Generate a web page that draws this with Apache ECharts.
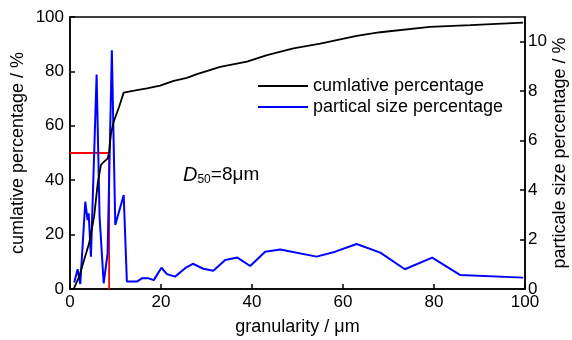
<!DOCTYPE html>
<html>
<head>
<meta charset="utf-8">
<script src="https://cdn.jsdelivr.net/npm/echarts@6/dist/echarts.min.js"></script>
<style>
html,body{margin:0;padding:0;background:#fff;}
#chart{width:572px;height:340px;}
</style>
</head>
<body>
<div id="chart"></div>
<script>
// cumulative percentage (left axis)
var cum_x = [0.8, 2.0, 3.1, 4.2, 5.3, 6.1, 6.8, 7.5, 8.3, 8.6, 9.0, 9.6, 10.8, 11.8, 14.1, 16.9, 19.8, 22.8, 25.7, 27.9, 33, 38.9, 43.3, 49.1, 55, 63, 68.2, 79.1, 88, 99.6];
var cum_y = [0, 4.5, 10.7, 16.8, 26.6, 38.9, 45.6, 46.8, 48, 50.5, 57, 61.5, 67, 72.2, 72.9, 73.8, 74.8, 76.5, 77.6, 79.0, 81.7, 83.6, 86, 88.5, 90.2, 93.1, 94.4, 96.4, 97, 97.9];
// partical size percentage (right axis)
var size_x = [0.94, 1.67, 2.26, 3.36, 3.87, 4.1, 4.6, 5.85, 6.5, 7.4, 8.26, 9.2, 9.95, 11.8, 12.5, 14.7, 15.8, 17.3, 18.4, 20.1, 21.3, 23.1, 25.3, 27, 29.3, 31.5, 34.1, 36.8, 39.6, 42.9, 46.2, 54.2, 58.3, 63, 68.2, 73.6, 79.6, 85.7, 99.6];
var size_y = [0.26, 0.8, 0.2, 3.53, 2.79, 3.06, 1.31, 8.67, 2.92, 0.23, 1.44, 9.65, 2.59, 3.8, 0.3, 0.3, 0.43, 0.43, 0.36, 0.86, 0.6, 0.5, 0.84, 1.02, 0.82, 0.74, 1.17, 1.27, 0.93, 1.51, 1.6, 1.31, 1.51, 1.82, 1.47, 0.8, 1.27, 0.57, 0.46];
// D50 guide line
var d50_x = 8.6;
var d50_level = 50;

var FONT = '"Liberation Sans", Arial, sans-serif';
var FS = 17;
var FS_NAME = 18;

function pairs(xs, ys){
	var out = [];
	for(var i = 0; i < xs.length; i++){
		out.push([xs[i], ys[i]]);
	}
	return out;
}

var chart = echarts.init(document.getElementById("chart"));
var option = {
	animation: false,
	backgroundColor: '#fff',
	textStyle: {fontFamily: FONT},
	grid: {
		left: 70,
		right: 47,
		top: 17,
		bottom: 51,
		outerBoundsMode: 'none',
		containLabel: false,
		show: true,
		borderColor: '#000',
		borderWidth: 1.5
	},
	legend: {
		orient: 'vertical',
		left: 253,
		top: 72,
		icon: 'rect',
		itemWidth: 50,
		itemHeight: 2,
		itemGap: 3,
		data: ['cumlative percentage', 'partical size percentage'],
		textStyle: {fontFamily: FONT, fontSize: FS_NAME, color: '#000'}
	},
	xAxis: {
		type: 'value',
		min: 0,
		max: 100,
		interval: 20,
		name: 'granularity / μm',
		nameLocation: 'middle',
		nameGap: 29,
		nameMoveOverlap: false,
		nameTextStyle: {fontFamily: FONT, fontSize: FS_NAME, color: '#000'},
		axisLine: {lineStyle: {color: '#000', width: 1.5}},
		axisTick: {inside: true, length: 5, lineStyle: {color: '#000', width: 1.5}},
		axisLabel: {fontFamily: FONT, fontSize: FS, color: '#000', margin: 5},
		splitLine: {show: false}
	},
	yAxis: [
		{
			type: 'value',
			min: 0,
			max: 100,
			interval: 20,
			name: 'cumlative percentage / %',
			nameLocation: 'middle',
			nameRotate: 90,
			nameGap: 43,
			nameMoveOverlap: false,
			nameTextStyle: {fontFamily: FONT, fontSize: FS_NAME, color: '#000'},
			axisLine: {show: true, lineStyle: {color: '#000', width: 1.5}},
			axisTick: {show: true, inside: true, length: 5, lineStyle: {color: '#000', width: 1.5}},
			axisLabel: {fontFamily: FONT, fontSize: FS, color: '#000', margin: 6},
			splitLine: {show: false}
		},
		{
			type: 'value',
			min: 0,
			max: 11,
			interval: 2,
			position: 'right',
			name: 'particale size percentage / %',
			nameLocation: 'middle',
			nameRotate: 90,
			nameGap: 26,
			nameMoveOverlap: false,
			nameTextStyle: {fontFamily: FONT, fontSize: FS_NAME, color: '#000'},
			axisLine: {show: true, lineStyle: {color: '#000', width: 1.5}},
			axisTick: {show: true, inside: true, length: 5, lineStyle: {color: '#000', width: 1.5}},
			axisLabel: {fontFamily: FONT, fontSize: FS, color: '#000', margin: 3, showMaxLabel: false},
			splitLine: {show: false}
		}
	],
	graphic: [{
		type: 'text',
		left: 183,
		top: 165,
		style: {
			text: '{i|D}{s|50}{n|=8μm}',
			rich: {
				i: {fontFamily: FONT, fontSize: 20, fontStyle: 'italic', fill: '#000'},
				s: {fontFamily: FONT, fontSize: 12, fill: '#000', padding: [9, 0, 0, 0]},
				n: {fontFamily: FONT, fontSize: 19, fill: '#000'}
			}
		}
	}],
	series: [
		{
			name: 'cumlative percentage',
			type: 'line',
			symbol: 'none',
			lineStyle: {color: '#000', width: 1.8},
			itemStyle: {color: '#000'},
			data: pairs(cum_x, cum_y),
			z: 3
		},
		{
			name: 'partical size percentage',
			type: 'line',
			yAxisIndex: 1,
			symbol: 'none',
			lineStyle: {color: '#0000ff', width: 2},
			itemStyle: {color: '#0000ff'},
			data: pairs(size_x, size_y),
			z: 2
		},
		{
			name: 'D50',
			type: 'line',
			symbol: 'none',
			lineStyle: {color: '#ff0000', width: 1.8},
			data: [[0, d50_level], [d50_x, d50_level], [d50_x, 0]],
			z: 1
		}
	]
};
chart.setOption(option);
</script>
</body>
</html>
